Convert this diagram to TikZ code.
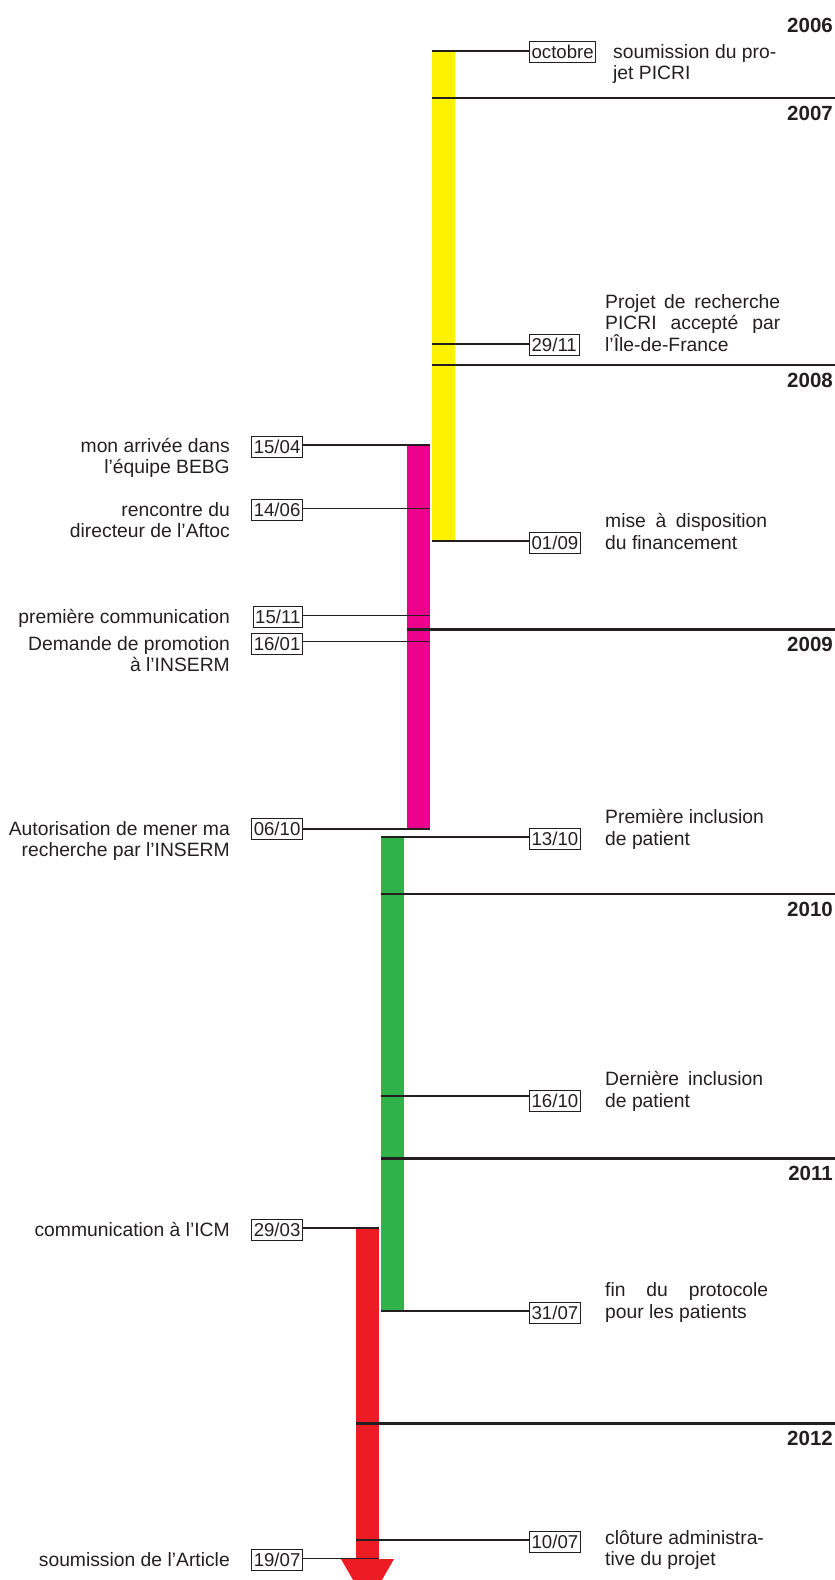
\documentclass[tikz,border=0pt]{standalone}
\usepackage{fontspec}
\setmainfont{Liberation Sans}

\definecolor{ink}{HTML}{231F20}
\definecolor{jaune}{HTML}{FFF200}
\definecolor{rose}{HTML}{EC008C}
\definecolor{vert}{HTML}{2FB24A}
\definecolor{rouge}{HTML}{ED1C24}

\newcommand{\evtfont}{\fontsize{19.3}{21.5}\selectfont}

\tikzset{
  datebox/.style={draw=ink, line width=0.9pt, inner xsep=2.2pt, inner ysep=4pt,
    text height=13.2pt, text depth=0pt, font=\fontsize{18.6}{21}\selectfont, text=ink},
  tick/.style={draw=ink, line width=1.1pt},
  yearline/.style={draw=ink, line width=2.6pt},
  yearlbl/.style={anchor=base east, inner sep=0pt, font=\fontsize{20.5}{24}\selectfont\bfseries, text=ink},
  rtext/.style={anchor=base west, inner sep=0pt, font=\evtfont, text=ink},
  ltext/.style={anchor=base east, inner sep=0pt, font=\evtfont, text=ink}
}

\begin{document}
\begin{tikzpicture}[x=1pt,y=-1pt]

\useasboundingbox (0,0) rectangle (835,1580);
\clip (0,0) rectangle (835,1580);

% barres des phases
\fill[jaune] (432,51) rectangle (455,541);
\fill[rose] (407,445) rectangle (430,829);
\fill[vert] (381,837) rectangle (404,1311);
\fill[rouge] (356,1228) rectangle (379,1560);
\fill[rouge] (341,1559) -- (394,1559) -- (367.5,1605) -- cycle;

% annees
\node[yearlbl] (y2006) at (833,32) {2006};

\draw[yearline] (432,98) -- (835,98);
\node[yearlbl] (y2007) at (833,120) {2007};

\draw[yearline] (432,365) -- (835,365);
\node[yearlbl] (y2008) at (833,387) {2008};

\draw[yearline] (407,629.5) -- (835,629.5);
\node[yearlbl] (y2009) at (833,651.5) {2009};

\draw[yearline] (381,894) -- (835,894);
\node[yearlbl] (y2010) at (833,916) {2010};

\draw[yearline] (381,1158.5) -- (835,1158.5);
\node[yearlbl] (y2011) at (833,1180.5) {2011};

\draw[yearline] (356,1423.5) -- (835,1423.5);
\node[yearlbl] (y2012) at (833,1445.5) {2012};

% evenements a droite
\coordinate (eOct) at (432,51);
\node[datebox, anchor=west] (dOct) at (529,52) {octobre};
\draw[tick] (eOct) -- (eOct -| dOct.west);
\node[rtext] (tOct) at (613,58) {\parbox[t]{200pt}{soumission du pro-\\jet PICRI}};

\coordinate (eAcc) at (432,344);
\node[datebox, anchor=west] (dAcc) at (529,345) {29/11};
\draw[tick] (eAcc) -- (eAcc -| dAcc.west);
\node[rtext] (tAcc) at (605,351) {\parbox[b]{200pt}{\makebox[175pt][s]{Projet de recherche}\\
  \makebox[175pt][s]{PICRI accepté par}\\l’Île-de-France}};

\coordinate (eFin) at (432,541);
\node[datebox, anchor=west] (dFin) at (529,543) {01/09};
\draw[tick] (eFin) -- (eFin -| dFin.west);
\node[rtext] (tFin) at (605,549) {\parbox[b]{200pt}{\makebox[162pt][s]{mise à disposition}\\du financement}};

\coordinate (ePrem) at (381,837);
\node[datebox, anchor=west] (dPrem) at (529,839) {13/10};
\draw[tick] (ePrem) -- (ePrem -| dPrem.west);
\node[rtext] (tPrem) at (605,845) {\parbox[b]{200pt}{Première inclusion\\de patient}};

\coordinate (eDern) at (381,1096);
\node[datebox, anchor=west] (dDern) at (529,1101) {16/10};
\draw[tick] (eDern) -- (eDern -| dDern.west);
\node[rtext] (tDern) at (605,1107) {\parbox[b]{200pt}{\makebox[158pt][s]{Dernière inclusion}\\de patient}};

\coordinate (eProt) at (381,1311);
\node[datebox, anchor=west] (dProt) at (529,1313) {31/07};
\draw[tick] (eProt) -- (eProt -| dProt.west);
\node[rtext] (tProt) at (605,1318) {\parbox[b]{200pt}{\makebox[163pt][s]{fin du protocole}\\pour les patients}};

\coordinate (eClot) at (356,1540);
\node[datebox, anchor=west] (dClot) at (529,1542) {10/07};
\draw[tick] (eClot) -- (eClot -| dClot.west);
\node[rtext] (tClot) at (605,1544) {\parbox[t]{200pt}{clôture administra-\\tive du projet}};

% evenements a gauche
\coordinate (eArr) at (430,445);
\node[datebox, anchor=east] (dArr) at (303,447) {15/04};
\draw[tick] (dArr.east |- eArr) -- (eArr);
\node[ltext] (tArr) at (230,452) {\parbox[t]{230pt}{\raggedleft mon arrivée dans\\l’équipe BEBG}};

\coordinate (eRenc) at (430,508.5);
\node[datebox, anchor=east] (dRenc) at (303,510) {14/06};
\draw[tick] (dRenc.east |- eRenc) -- (eRenc);
\node[ltext] (tRenc) at (230,516) {\parbox[t]{230pt}{\raggedleft rencontre du\\directeur de l’Aftoc}};

\coordinate (eComm) at (430,615.5);
\node[datebox, anchor=east] (dComm) at (303,617) {15/11};
\draw[tick] (dComm.east |- eComm) -- (eComm);
\node[ltext] (tComm) at (230,623) {première communication};

\coordinate (eDem) at (430,641.5);
\node[datebox, anchor=east] (dDem) at (303,644) {16/01};
\draw[tick] (dDem.east |- eDem) -- (eDem);
\node[ltext] (tDem) at (230,650) {\parbox[t]{230pt}{\raggedleft Demande de promotion\\à l’INSERM}};

\coordinate (eAut) at (430,829);
\node[datebox, anchor=east] (dAut) at (303,829) {06/10};
\draw[tick] (dAut.east |- eAut) -- (eAut);
\node[ltext] (tAut) at (230,835) {\parbox[t]{230pt}{\raggedleft Autorisation de mener ma\\recherche par l’INSERM}};

\coordinate (eIcm) at (379,1228);
\node[datebox, anchor=east] (dIcm) at (303,1230) {29/03};
\draw[tick] (dIcm.east |- eIcm) -- (eIcm);
\node[ltext] (tIcm) at (230,1236) {communication à l’ICM};

\coordinate (eArt) at (379,1558.5);
\node[datebox, anchor=east] (dArt) at (303,1560) {19/07};
\draw[tick] (dArt.east |- eArt) -- (eArt);
\node[ltext] (tArt) at (230,1566) {soumission de l’Article};

\end{tikzpicture}
\end{document}
